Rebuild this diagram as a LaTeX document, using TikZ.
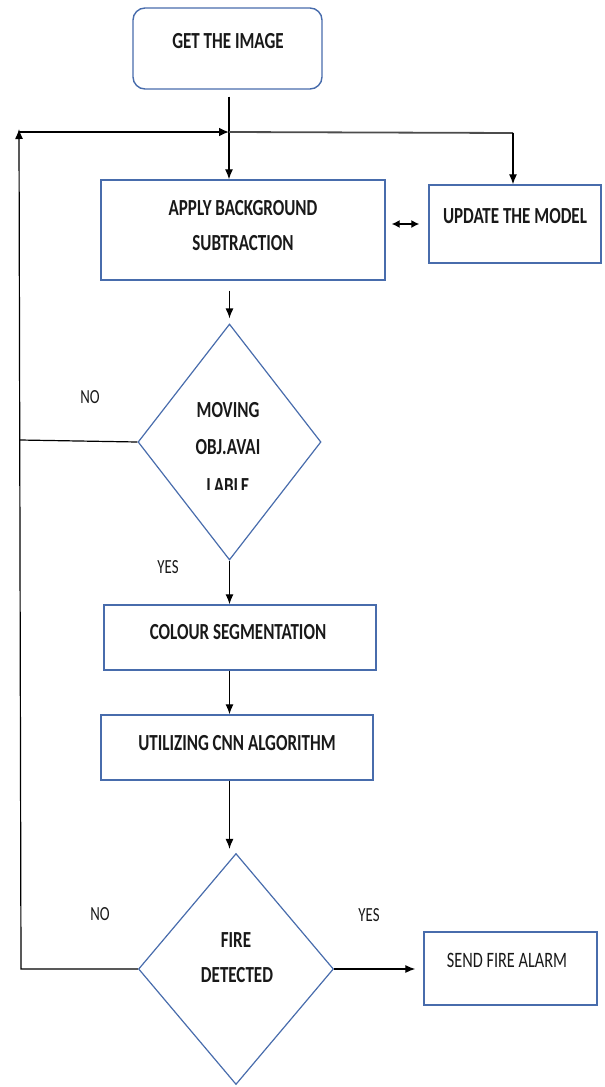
\documentclass[tikz,border=0pt]{standalone}
\usepackage{fontspec}
\newfontfamily\lab{Carlito}[FakeStretch=0.74]
\usetikzlibrary{shapes.geometric,arrows.meta}
\definecolor{boxblue}{RGB}{72,108,172}
\begin{document}
\begin{tikzpicture}[x=1pt,y=-1pt,
 box/.style={draw=boxblue,line width=1.4pt,inner sep=0,rectangle},
 dia/.style={draw=boxblue,line width=1.2pt,diamond,inner sep=0},
 txt/.style={font=\lab\bfseries\fontsize{23}{25}\selectfont,inner sep=0,text=black!90},
 ntxt/.style={font=\lab\fontsize{22}{24}\selectfont,inner sep=0,text=black!90},
 ltxt/.style={font=\lab\fontsize{20}{22}\selectfont,inner sep=0,text=black!90},
 arr/.style={line width=1.2pt,-{Latex[length=10pt,width=8pt]}},
 ln/.style={line width=1.2pt}]
\useasboundingbox (0,0) rectangle (605,1087);

% boxes
\node[box,rounded corners=12pt,minimum width=189pt,minimum height=81pt] (get) at (227.5,48.5) {};
\node[box,minimum width=284pt,minimum height=100pt] (apply) at (243,230) {};
\node[box,minimum width=172pt,minimum height=78pt] (update) at (515,224) {};
\node[dia,minimum width=183pt,minimum height=236pt] (d1) at (229.5,442) {};
\node[box,minimum width=272pt,minimum height=65pt] (colour) at (240,637.5) {};
\node[box,minimum width=272pt,minimum height=65pt] (cnn) at (237,747.5) {};
\node[dia,minimum width=195pt,minimum height=231pt] (d2) at (236,969) {};
\node[box,minimum width=173pt,minimum height=73pt] (alarm) at (510.5,968.5) {};

% texts
\node[txt] (t1) at (228,41) {GET THE IMAGE};
\node[txt] (t2) at (243,208) {APPLY BACKGROUND};
\node[txt] (t3) at (243,243) {SUBTRACTION};
\node[txt] (t4) at (515,216) {UPDATE THE MODEL};
\node[txt] (t5) at (228,410) {MOVING};
\node[txt] (t6) at (228,447) {OBJ.AVAI};
\begin{scope}
\clip (150,470) rectangle (310,489);
\node[txt] (t7) at (228,486) {LABLE};
\end{scope}
\node[txt] (t8) at (238,632) {COLOUR SEGMENTATION};
\node[txt] (t9) at (237,743) {UTILIZING CNN ALGORITHM};
\node[txt] (t10) at (236,940) {FIRE};
\node[txt] (t11) at (237,975) {DETECTED};
\node[ntxt] (t12) at (507,960) {SEND FIRE ALARM};
\node[ltxt] (no1) at (90,397) {NO};
\node[ltxt] (yes1) at (168,567) {YES};
\node[ltxt] (no2) at (100,914) {NO};
\node[ltxt] (yes2) at (369,915) {YES};

% coordinates
\coordinate (jn) at (229,132);
\coordinate (lt) at (19,132);
\coordinate (lm) at (20,440);
\coordinate (lb) at (21,969);
\coordinate (ur) at (513,133);

% connectors
\draw[arr,shorten <=7pt] (get.south -| jn) -- (apply.north -| jn);
\draw[arr,shorten <=10pt,shorten >=5pt] (apply.south -| d1.north) -- (d1.north);
\draw[arr] (d1.south) -- (colour.north -| d1.south);
\draw[arr] (colour.south -| d1.south) -- (cnn.north -| d1.south);
\draw[arr,shorten >=4pt] (cnn.south -| d1.south) -- (d2.north -| d1.south);
\draw[arr,shorten >=8pt] (d2.east) -- (alarm.west |- d2.east);
\draw[line width=1.3pt,{Latex[length=8pt,width=8pt]}-{Latex[length=8pt,width=8pt]},shorten <=6pt,shorten >=9pt] (apply.east |- update.west) -- (update.west);
\draw[ln] (d1.west) -- (lm);
\draw[ln,-{Latex[length=10pt,width=8pt]}] (d2.west) -- (lb) -- ([yshift=3pt]lt);
\draw[line width=2.6pt,-{Latex[length=10pt,width=9pt]}] (lt) -- (jn);
\draw[line width=1.8pt,black!70] (jn) -- (ur);
\draw[arr] (ur) -- (update.north -| ur);
\end{tikzpicture}
\end{document}
